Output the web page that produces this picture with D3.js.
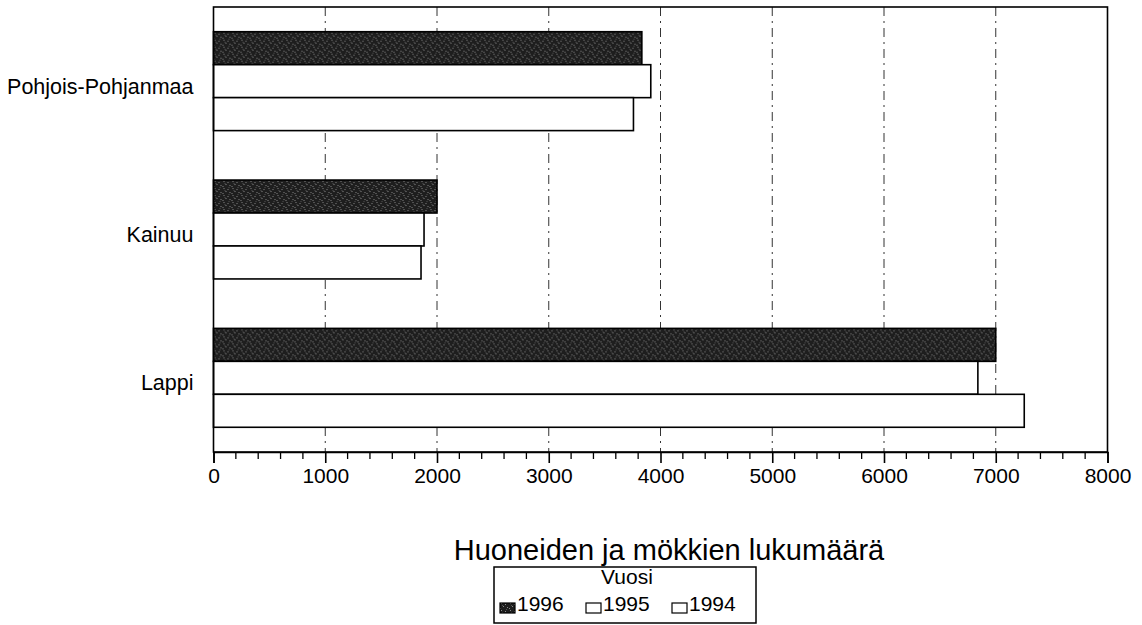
<!DOCTYPE html>
<html>
<head>
<meta charset="utf-8">
<script src="https://cdn.jsdelivr.net/npm/d3@7"></script>
<style>
  html, body { margin: 0; padding: 0; background: #fff; }
  svg { display: block; font-family: "Liberation Sans", Arial, Helvetica, sans-serif; }
</style>
</head>
<body>
<svg id="chart" width="1142" height="625"></svg>
<script>
// ---- data ----
const regions = ["Pohjois-Pohjanmaa", "Kainuu", "Lappi"];
const years = ["1996", "1995", "1994"];
const values1996 = [3833, 2000, 7000];
const values1995 = [3913, 1884, 6840];
const values1994 = [3758, 1857, 7255];
const xTicks = [0, 1000, 2000, 3000, 4000, 5000, 6000, 7000, 8000];
const axisTitle = "Huoneiden ja mökkien lukumäärä";
const legendTitle = "Vuosi";

const seriesValues = { "1996": values1996, "1995": values1995, "1994": values1994 };
const rows = regions.map((r, i) => ({ region: r, vals: years.map(y => ({ year: y, value: seriesValues[y][i] })) }));

// ---- layout ----
const W = 1142, H = 625;
const m = { left: 213.5, right: 34.5, top: 7, bottom: 173 };
const svg = d3.select("#chart");
const plotW = W - m.left - m.right, plotH = H - m.top - m.bottom;

// pattern for 1996
const defs = svg.append("defs");
const pat = defs.append("pattern").attr("id", "dark").attr("patternUnits", "userSpaceOnUse")
  .attr("width", 9).attr("height", 7);
pat.append("rect").attr("width", 9).attr("height", 7).attr("fill", "#1e1e1e");
[[1,1],[5,2],[3,4],[7,5],[0,6]].forEach(([a,b]) =>
  pat.append("rect").attr("x", a).attr("y", b).attr("width", 1).attr("height", 1).attr("fill", "#8a8a8a"));
[[6,0],[2,3]].forEach(([a,b]) =>
  pat.append("rect").attr("x", a).attr("y", b).attr("width", 1).attr("height", 1).attr("fill", "#555"));

const fills = { "1996": "url(#dark)", "1995": "#fff", "1994": "#fff" };

const g = svg.append("g").attr("transform", `translate(${m.left},${m.top})`);

const x = d3.scaleLinear().domain([0, 8000]).range([0, plotW]);
const y = d3.scaleBand().domain(regions).range([0, plotH]).paddingInner(1/3).paddingOuter(1/6);
const yInner = d3.scaleBand().domain(years).range([0, y.bandwidth()]);

// gridlines (dash-dot)
g.append("g").selectAll("line").data(xTicks.filter(t => t > 0 && t < 8000)).join("line")
  .attr("x1", d => x(d)).attr("x2", d => x(d))
  .attr("y1", 0).attr("y2", plotH)
  .attr("stroke", "#333").attr("stroke-width", 1)
  .attr("stroke-dasharray", "9,5,2,5");

// bars
const grp = g.append("g").selectAll("g").data(rows).join("g")
  .attr("transform", d => `translate(0,${y(d.region)})`);
grp.selectAll("rect").data(d => d.vals).join("rect")
  .attr("x", x(0))
  .attr("y", d => yInner(d.year))
  .attr("width", d => x(d.value) - x(0))
  .attr("height", yInner.bandwidth())
  .attr("fill", d => fills[d.year])
  .attr("stroke", "#000").attr("stroke-width", 1.6);

// frame
g.append("rect").attr("x", 0).attr("y", 0).attr("width", plotW).attr("height", plotH)
  .attr("fill", "none").attr("stroke", "#000").attr("stroke-width", 1.6);

// x axis with minor ticks
const minor = d3.range(0, 8001, 200).filter(v => v % 1000 !== 0);
g.append("g").selectAll("line").data(minor).join("line")
  .attr("x1", d => x(d)).attr("x2", d => x(d))
  .attr("y1", plotH).attr("y2", plotH + 7)
  .attr("stroke", "#000").attr("stroke-width", 1.3);

const xAxis = d3.axisBottom(x).tickValues(xTicks).tickSize(11).tickPadding(5).tickFormat(d3.format("d"));
const ax = g.append("g").attr("transform", `translate(0,${plotH})`).call(xAxis);
ax.select(".domain").attr("stroke", "#000").attr("stroke-width", 1.6);
ax.selectAll(".tick line").attr("stroke", "#000").attr("stroke-width", 1.6);
ax.selectAll(".tick text").attr("font-size", 21).attr("fill", "#000")
  .attr("font-family", "Liberation Sans, Arial, sans-serif");

// y axis labels
g.append("g").selectAll("text").data(regions).join("text")
  .attr("x", -20)
  .attr("y", d => y(d) + y.bandwidth() / 2 + 5)
  .attr("dy", "0.35em")
  .attr("text-anchor", "end")
  .attr("font-size", 21.5)
  .attr("fill", "#000")
  .text(d => d);

// axis title
svg.append("text")
  .attr("x", 669).attr("y", 560)
  .attr("text-anchor", "middle")
  .attr("font-size", 29)
  .attr("fill", "#000")
  .text(axisTitle);

// legend
const lg = svg.append("g").attr("transform", "translate(494,567)");
lg.append("rect").attr("x", 0).attr("y", 0).attr("width", 262).attr("height", 56)
  .attr("fill", "#fff").attr("stroke", "#000").attr("stroke-width", 1.5);
lg.append("text").attr("x", 133).attr("y", 17).attr("text-anchor", "middle")
  .attr("font-size", 21).attr("fill", "#000").text(legendTitle);
const itemX = d3.scalePoint().domain(years).range([6, 178]);
const items = lg.selectAll("g.item").data(years).join("g").attr("class", "item")
  .attr("transform", d => `translate(${itemX(d)},0)`);
items.append("rect").attr("x", 0).attr("y", 36).attr("width", 15).attr("height", 10)
  .attr("fill", d => fills[d]).attr("stroke", "#000").attr("stroke-width", 1.2);
items.append("text").attr("x", 17).attr("y", 44).attr("font-size", 21).attr("fill", "#000").text(d => d);
</script>
</body>
</html>
